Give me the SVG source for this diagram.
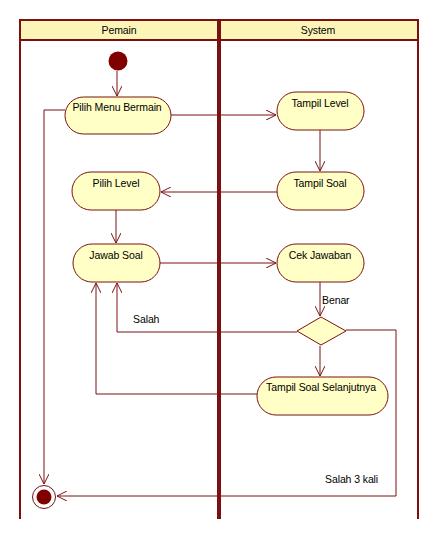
<svg xmlns="http://www.w3.org/2000/svg" width="439" height="539" viewBox="0 0 439 539">
<defs>
<style>
.lane{fill:none;stroke:#7b1010;stroke-width:2}
.hdr{fill:#fdf5b8;stroke:#7b1010;stroke-width:2}
.act{fill:#ffffc6;stroke:#7b1010;stroke-width:1}
.c{fill:none;stroke:#7b1010;stroke-width:1}
text{font-family:"Liberation Sans",Arial,sans-serif;font-size:10.5px;fill:#000;letter-spacing:-0.1px}
</style>
<marker id="arr" viewBox="0 0 10 10" refX="10" refY="5" markerWidth="10" markerHeight="10" markerUnits="userSpaceOnUse" orient="auto">
<path d="M0,0 L10,5 L0,10" fill="none" stroke="#7b1010" stroke-width="1"/>
</marker>
</defs>
<rect width="439" height="539" fill="#fff"/>
<g id="lanes">
<rect class="hdr" x="20" y="20" width="398" height="20"/>
<line class="lane" x1="20" y1="20" x2="20" y2="519"/>
<line class="lane" x1="418" y1="20" x2="418" y2="519"/>
<line x1="219" y1="20" x2="219" y2="519" stroke="#7b1010" stroke-width="4"/>
<text x="119" y="34" text-anchor="middle">Pemain</text>
<text x="318" y="34" text-anchor="middle">System</text>
</g>
<g id="connectors">
<line class="c" x1="117" y1="71" x2="117" y2="96" marker-end="url(#arr)"/>
<line class="c" x1="171" y1="115" x2="276" y2="115" marker-end="url(#arr)"/>
<line class="c" x1="320" y1="130" x2="320" y2="171" marker-end="url(#arr)"/>
<line class="c" x1="277" y1="192" x2="161" y2="192" marker-end="url(#arr)"/>
<line class="c" x1="116" y1="210" x2="116" y2="243" marker-end="url(#arr)"/>
<line class="c" x1="160" y1="263" x2="276" y2="263" marker-end="url(#arr)"/>
<line class="c" x1="320" y1="282" x2="320" y2="316" marker-end="url(#arr)"/>
<polyline class="c" points="297,332 117,332 117,283" marker-end="url(#arr)"/>
<line class="c" x1="320" y1="346" x2="320" y2="376" marker-end="url(#arr)"/>
<polyline class="c" points="257,394 96,394 96,283" marker-end="url(#arr)"/>
<polyline class="c" points="346,330 396,330 396,496 57,496" marker-end="url(#arr)"/>
<polyline class="c" points="65,110 44,110 44,484" marker-end="url(#arr)"/>
<text x="322" y="304">Benar</text>
<text x="133" y="323">Salah</text>
<text x="325" y="483">Salah 3 kali</text>
</g>
<g id="start"><circle cx="118" cy="61" r="9.5" fill="#800000"/></g>
<g id="pilih-menu"><rect class="act" x="65" y="97" width="106" height="37" rx="18.5"/><text x="117" y="111" text-anchor="middle">Pilih Menu Bermain</text></g>
<g id="tampil-level"><rect class="act" x="277" y="92" width="87" height="38" rx="19"/><text x="320" y="107" text-anchor="middle">Tampil Level</text></g>
<g id="tampil-soal"><rect class="act" x="277" y="172" width="87" height="38" rx="19"/><text x="320" y="187" text-anchor="middle">Tampil Soal</text></g>
<g id="pilih-level"><rect class="act" x="72" y="172" width="88" height="38" rx="19"/><text x="116" y="187" text-anchor="middle">Pilih Level</text></g>
<g id="jawab-soal"><rect class="act" x="73" y="244" width="87" height="38" rx="19"/><text x="116" y="259" text-anchor="middle">Jawab Soal</text></g>
<g id="cek-jawaban"><rect class="act" x="277" y="244" width="87" height="38" rx="19"/><text x="320" y="259" text-anchor="middle">Cek Jawaban</text></g>
<g id="decision"><polygon class="act" points="321,317 346,331 321,345 297,331"/></g>
<g id="tampil-selanjutnya"><rect class="act" x="257" y="377" width="131" height="38" rx="19"/><text x="321" y="391" text-anchor="middle">Tampil Soal Selanjutnya</text></g>
<g id="end"><circle cx="44" cy="497" r="11.5" fill="#fff" stroke="#7b1010" stroke-width="1"/><circle cx="44" cy="497" r="7.5" fill="#800000"/></g>
</svg>
